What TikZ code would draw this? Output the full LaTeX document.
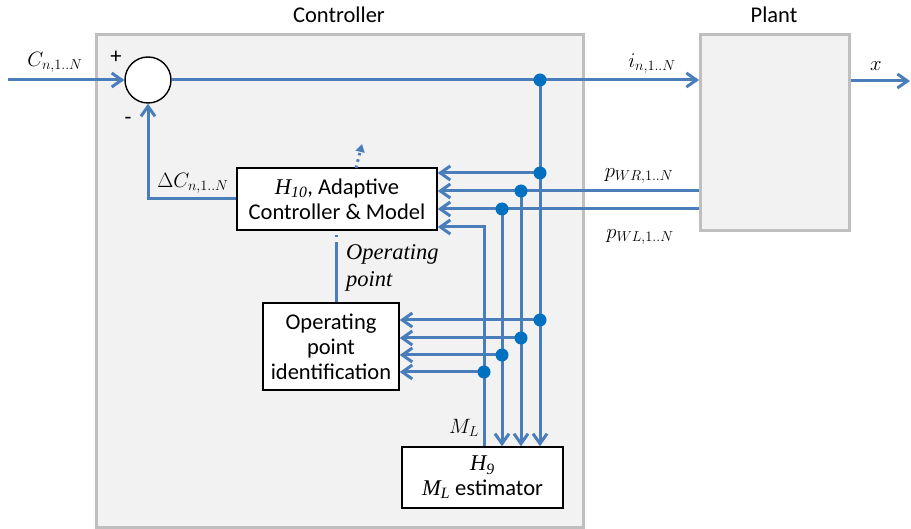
\documentclass[tikz,border=0pt]{standalone}
\usepackage{fontspec}
\setmainfont{Carlito}
\newfontfamily\tnr{Liberation Serif}
\usetikzlibrary{arrows.meta}
\definecolor{lineblue}{RGB}{74,126,187}
\definecolor{dotblue}{RGB}{0,112,192}
\definecolor{boxgray}{RGB}{191,191,191}
\definecolor{boxfill}{RGB}{242,242,242}
\tikzset{
  wire/.style={draw=lineblue, line width=3pt},
  sig/.style={wire, -{Straight Barb[length=10pt,width=14pt]}},
  graybox/.style={draw=boxgray, fill=boxfill, line width=3pt, anchor=north west, inner sep=0pt},
  blk/.style={draw=black, fill=white, line width=1.4pt, align=center, inner sep=0pt,
              font=\fontsize{22.5}{25}\selectfont},
  lbl/.style={font=\fontsize{22.5}{26}\selectfont, inner sep=0pt},
  mlbl/.style={font=\fontsize{21.5}{26}\selectfont, inner sep=0pt},
  oplbl/.style={font=\fontsize{22.5}{27}\selectfont\tnr\itshape, inner sep=0pt, anchor=west},
}
\begin{document}
\begin{tikzpicture}[x=1pt, y=-1pt]
\useasboundingbox (0,0) rectangle (911,529);

% outer blocks
\node[graybox, minimum width=487pt, minimum height=493pt] (ctrl) at (95,33) {};
\node[graybox, minimum width=149pt, minimum height=196pt] (plant) at (699,33) {};
\node[lbl] (ctrlname) at (339,15) {Controller};
\node[lbl] (plantname) at (774,15) {Plant};

% inner blocks
\node[circle, draw=black, fill=white, line width=1.4pt, minimum size=46pt, inner sep=0pt] (sum) at (148,80) {};
\node[blk, minimum width=200pt, minimum height=62pt] (h10) at (337,199)
  {{\tnr\itshape H\textsubscript{10}}, Adaptive\\Controller \& Model};
\node[blk, minimum width=136pt, minimum height=87pt] (opid) at (331,346.5)
  {Operating\\point\\identification};
\node[blk, minimum width=161pt, minimum height=61pt] (h9) at (482.5,477.5)
  {{\tnr\itshape H\textsubscript{9}}\\{\tnr\itshape M\textsubscript{L}} estimator};

% branch points
\coordinate (cin) at (8,80);
\coordinate (xout) at (910,81);
\coordinate (jI) at (540,80);
\coordinate (jIa) at (540,173);
\coordinate (jIb) at (540,320);
\coordinate (jR) at (521,191);
\coordinate (jRb) at (521,338);
\coordinate (jL) at (502,209);
\coordinate (jLb) at (502,355);
\coordinate (jM) at (484,372);
\coordinate (mTurn) at (484,227);
\coordinate (opline) at (336,244);
\coordinate (opdot) at (336,231);
\coordinate (upfrom) at (356,168);
\coordinate (uptip) at (362,144);

% main loop
\draw[sig] (cin) -- (sum.west);
\draw[sig] (sum.east) -- (sum.east -| plant.west);
\draw[sig] (plant.east |- xout) -- (xout);
\draw[sig] (h10.west) -- (sum |- h10.west) -- (sum.south);

% measured signals into the adaptive controller
\draw[sig] (jIa) -- (jIa -| h10.east);
\draw[sig] (plant.west |- jR) -- (jR -| h10.east);
\draw[sig] (plant.west |- jL) -- (jL -| h10.east);
\draw[sig] (h9.north -| jM) -- (mTurn) -- (mTurn -| h10.east);

% feeds into the estimator
\draw[sig] (jI) -- (jI |- h9.north);
\draw[sig] (jR) -- (jR |- h9.north);
\draw[sig] (jL) -- (jL |- h9.north);

% feeds into the operating point identification
\draw[sig] (jIb) -- (jIb -| opid.east);
\draw[sig] (jRb) -- (jRb -| opid.east);
\draw[sig] (jLb) -- (jLb -| opid.east);
\draw[sig] (jM) -- (jM -| opid.east);

% operating point link
\draw[wire] (opid.north -| opline) -- (opline);
\draw[wire, dash pattern=on 2pt off 5pt] (opline) -- (opdot);
\draw[wire, dash pattern=on 2.5pt off 4pt, -{Triangle[length=8pt,width=9pt]}] (upfrom) -- (uptip);

% junction dots
\foreach \p in {jI,jIa,jIb,jR,jRb,jL,jLb,jM}
  \fill[dotblue] (\p) circle (6.5pt);

% labels
\node[mlbl] (lcin) at (55,62) {$C_{n,1..N}$};
\node[lbl] (lplus) at (116,57) {+};
\node[lbl] (lminus) at (128,121) {-};
\node[mlbl] (ldc) at (193,183) {$\Delta C_{n,1..N}$};
\node[mlbl] (li) at (652,64) {$i_{n,1..N}$};
\node[mlbl] (lx) at (876,66) {$x$};
\node[mlbl] (lpwr) at (639,176) {$p_{WR,1..N}$};
\node[mlbl] (lpwl) at (640,237) {$p_{WL,1..N}$};
\node[mlbl] (lml) at (464,428) {$M_L$};
\node[oplbl] (lop1) at (346,254) {Operating};
\node[oplbl] (lop2) at (346,281) {point};
\end{tikzpicture}
\end{document}
